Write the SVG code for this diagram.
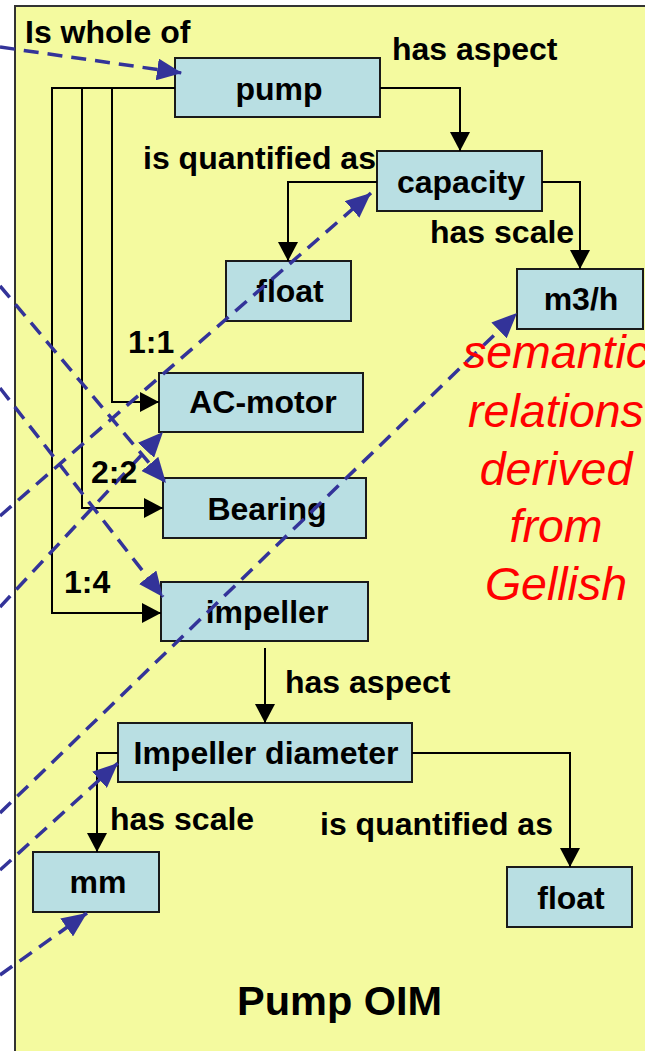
<svg xmlns="http://www.w3.org/2000/svg" width="645" height="1051" viewBox="0 0 645 1051">
<style>
.panel{fill:#F4FA9F;stroke:#333;stroke-width:2}
.box{fill:#B9DFE3;stroke:#1a1a1a;stroke-width:2}
.nt{font-family:"Liberation Sans",Arial,sans-serif;font-weight:bold;font-size:32px;fill:#000;text-anchor:middle}
.lt{font-family:"Liberation Sans",Arial,sans-serif;font-weight:bold;font-size:32px;fill:#000}
.red{font-family:"Liberation Sans",Arial,sans-serif;font-style:italic;font-size:46.5px;fill:#FF0000;text-anchor:middle}
.title{font-family:"Liberation Sans",Arial,sans-serif;font-weight:bold;font-size:41.5px;fill:#000}
.bl{fill:none;stroke:#000;stroke-width:2;marker-end:url(#ab)}
.dl{fill:none;stroke:#333399;stroke-width:3.5;stroke-dasharray:15 9;marker-end:url(#ad)}
</style>
<defs>
<marker id="ab" viewBox="0 0 19 20" refX="19" refY="10" markerWidth="19" markerHeight="20" markerUnits="userSpaceOnUse" orient="auto"><path d="M0,0 L19,10 L0,20 z" fill="#000"/></marker>
<marker id="ad" viewBox="0 0 25 22" refX="25" refY="11" markerWidth="25" markerHeight="22" markerUnits="userSpaceOnUse" orient="auto"><path d="M0,0 L25,11 L0,22 z" fill="#333399"/></marker>
</defs>
<rect x="0" y="0" width="645" height="1051" fill="#fff"/>
<rect class="panel" x="15" y="6" width="660" height="1070"/>

<g id="node-pump"><rect class="box" x="175" y="58" width="205" height="59"/><text class="nt" x="279" y="100">pump</text></g>
<g id="node-capacity"><rect class="box" x="377" y="151" width="165" height="60"/><text class="nt" x="461" y="193">capacity</text></g>
<g id="node-float1"><rect class="box" x="226" y="261" width="125" height="60"/><text class="nt" x="290" y="302">float</text></g>
<g id="node-m3h"><rect class="box" x="517" y="269" width="126" height="60"/><text class="nt" x="581" y="310">m3/h</text></g>
<g id="node-acmotor"><rect class="box" x="159" y="373" width="204" height="59"/><text class="nt" x="263" y="413">AC-motor</text></g>
<g id="node-bearing"><rect class="box" x="163" y="478" width="203" height="60"/><text class="nt" x="267" y="520">Bearing</text></g>
<g id="node-impeller"><rect class="box" x="161" y="582" width="207" height="59"/><text class="nt" x="267" y="623">impeller</text></g>
<g id="node-impdiam"><rect class="box" x="118" y="723" width="294" height="59"/><text class="nt" x="266" y="764">Impeller diameter</text></g>
<g id="node-mm"><rect class="box" x="33" y="852" width="126" height="60"/><text class="nt" x="98" y="893">mm</text></g>
<g id="node-float2"><rect class="box" x="507" y="867" width="125" height="60"/><text class="nt" x="571" y="909">float</text></g>

<g id="connectors">
<path class="bl" d="M380,88 H460 V151"/>
<path class="bl" d="M377,182 H288 V261"/>
<path class="bl" d="M542,182 H580 V269"/>
<path class="bl" d="M175,88 H112 V402 H159"/>
<path class="bl" d="M175,88 H82 V508 H163"/>
<path class="bl" d="M175,88 H52 V613 H161"/>
<path class="bl" d="M265,648 V723"/>
<path class="bl" d="M118,753 H97 V852"/>
<path class="bl" d="M412,753 H570 V867"/>
<path class="dl" d="M0,47 L182,73"/>
<path class="dl" d="M0,286 L166,483"/>
<path class="dl" d="M0,388 L163,597"/>
<path class="dl" d="M0,516 L371,193"/>
<path class="dl" d="M0,607 L163,432"/>
<path class="dl" d="M0,813 L517,313"/>
<path class="dl" d="M0,870 L118,763"/>
<path class="dl" d="M0,975 L87,913"/>
</g>

<g id="labels">
<text class="lt" x="25" y="43">Is whole of</text>
<text class="lt" x="392" y="60">has aspect</text>
<text class="lt" x="143" y="169">is quantified as</text>
<text class="lt" x="430" y="243">has scale</text>
<text class="lt" x="128" y="353">1:1</text>
<text class="lt" x="91" y="483">2:2</text>
<text class="lt" x="64" y="593">1:4</text>
<text class="lt" x="285" y="693">has aspect</text>
<text class="lt" x="110" y="830">has scale</text>
<text class="lt" x="320" y="835">is quantified as</text>
</g>

<g id="note">
<text class="red" x="556" y="368">semantic</text>
<text class="red" x="556" y="427">relations</text>
<text class="red" x="556" y="485">derived</text>
<text class="red" x="556" y="542">from</text>
<text class="red" x="556" y="600">Gellish</text>
</g>

<text class="title" x="237" y="1015">Pump OIM</text>
</svg>
